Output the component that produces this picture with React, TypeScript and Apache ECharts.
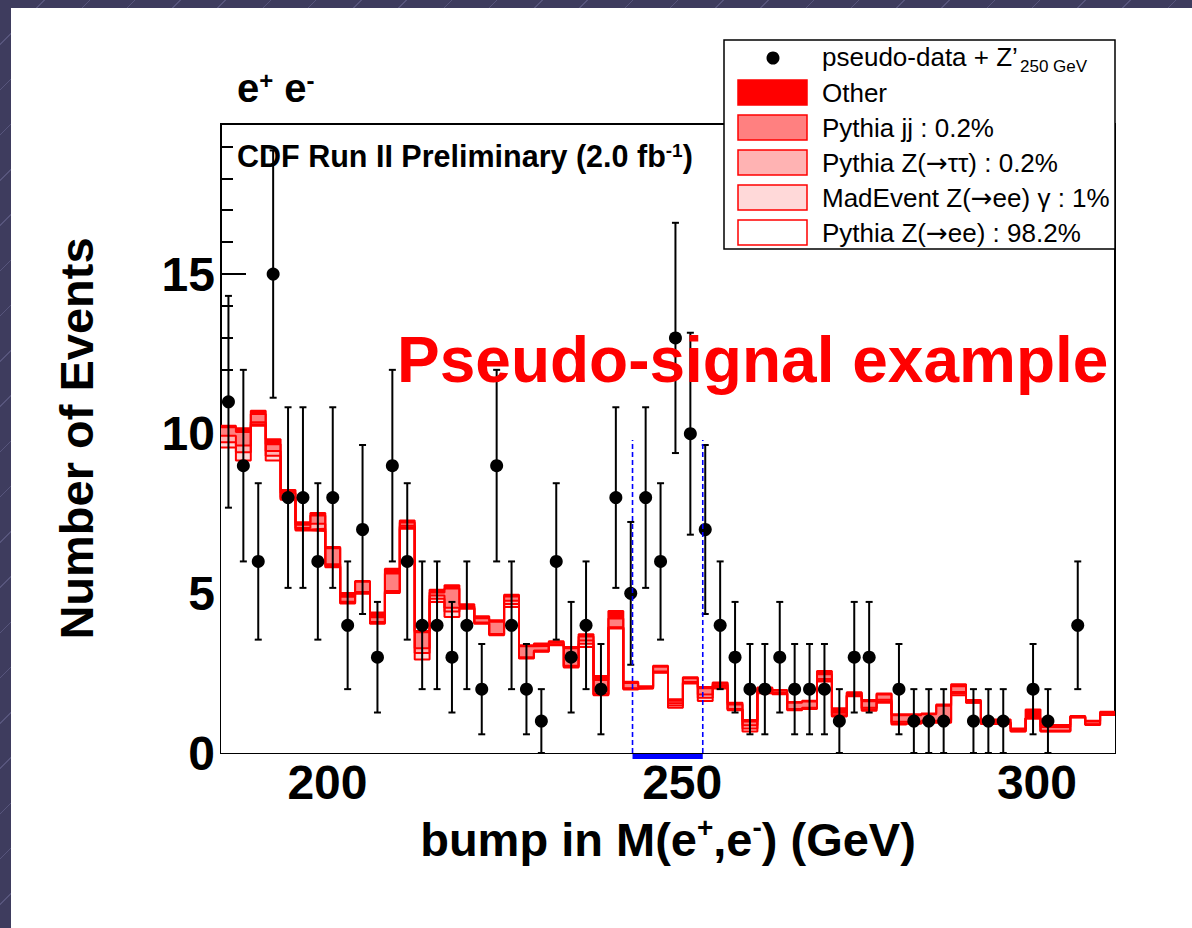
import React, { useEffect, useRef } from "react";
import * as echarts from "echarts";

// Binning of the mass histogram (GeV)
const X_MIN = 185;
const X_MAX = 311;
const BIN_WIDTH = 2.1;
const Y_MAX = 19.7;

// Pseudo-data counts per bin
const dataCounts = [
  11, 9, 6, 15, 8, 8, 6, 8, 4, 7, 3, 9, 6, 4, 4, 3, 4, 2, 9, 4,
  2, 1, 6, 3, 4, 2, 8, 5, 8, 6, 13, 10, 7, 4, 3, 2, 2, 3, 2, 2,
  2, 1, 3, 3, 0, 2, 1, 1, 1, 0, 1, 1, 1, 0, 2, 1, 0, 4, 0, 0,
];

// Background expectations per bin, bottom of the stack first
const pythiaZee = [
  9.57, 9.16, 10.25, 9.16, 7.93, 6.97, 6.95, 5.82, 4.68, 4.99, 4.05, 5.01, 7.02, 2.93, 4.73, 4.26, 4.52, 4.05, 3.69, 4.57,
  2.96, 3.17, 3.375, 2.68, 3.32, 1.81, 3.9, 1.99, 2.02, 2.51, 1.42, 2.18, 1.63, 2.02, 1.34, 0.67, 1.87, 1.84, 1.34, 1.38,
  2.24, 1.14, 1.78, 1.32, 1.57, 0.89, 0.92, 0.95, 0.95, 1.81, 1.57, 0.91, 0.91, 0.67, 1.08, 0.67, 0.67, 1.11, 0.875, 1.19,
];
const madEventZeeGamma = [
  0.16, 0.26, 0.05, 0.15, 0.03, 0.03, 0.07, 0.04, 0.02, 0.02, 0.02, 0.03, 0.05, 0.2, 0.1, 0.17, 0.02, 0.02, 0.02, 0.1,
  0.015, 0.02, 0.015, 0.02, 0.1, 0.02, 0.02, 0.02, 0.01, 0.02, 0.07, 0.02, 0.1, 0.05, 0.02, 0.1, 0.06, 0.02, 0.02, 0.02,
  0.04, 0.02, 0.02, 0.05, 0.05, 0.04, 0.03, 0.03, 0.04, 0.05, 0.01, 0.01, 0.01, 0.01, 0.005, 0.01, 0.01, 0.01, 0.015, 0.01,
];
const pythiaZtautau = [
  0.21, 0.21, 0.06, 0.15, 0.05, 0.05, 0.16, 0.05, 0.04, 0.03, 0.03, 0.03, 0.05, 0.15, 0.1, 0.12, 0.02, 0.02, 0.02, 0.1,
  0.02, 0.02, 0.01, 0.03, 0.1, 0.02, 0.02, 0.02, 0.01, 0.02, 0.07, 0.02, 0.1, 0.05, 0.02, 0.1, 0.06, 0.02, 0.02, 0.02,
  0.04, 0.02, 0.02, 0.05, 0.05, 0.05, 0.03, 0.03, 0.04, 0.05, 0.01, 0.01, 0.01, 0.01, 0.005, 0.015, 0.015, 0.01, 0.01, 0.01,
];
const pythiaJJ = [
  0.26, 0.42, 0.26, 0.21, 0.13, 0.1, 0.26, 0.5, 0.15, 0.32, 0.15, 0.55, 0.1, 0.5, 0.1, 0.6, 0.04, 0.13, 0.38, 0.13,
  0.35, 0.14, 0.05, 0.55, 0.13, 0.44, 0.27, 0.16, 0.03, 0.15, 0.08, 0.12, 0.2, 0.05, 0.14, 0.12, 0.04, 0.07, 0.19, 0.19,
  0.15, 0.08, 0.06, 0.2, 0.16, 0.2, 0.2, 0.2, 0.45, 0.18, 0.02, 0.04, 0.04, 0.06, 0.01, 0.12, 0.12, 0.01, 0.09, 0.05,
];
const otherBkg = [
  0.05, 0.12, 0.1, 0.16, 0.1, 0.08, 0.08, 0.04, 0.12, 0.03, 0.15, 0.15, 0.06, 0.04, 0.08, 0.1, 0.06, 0.06, 0.05, 0.06,
  0.03, 0.08, 0.05, 0.04, 0.07, 0.12, 0.24, 0.04, 0.02, 0.03, 0.04, 0.03, 0.04, 0.04, 0.05, 0.04, 0.02, 0.02, 0.03, 0.03,
  0.1, 0.14, 0.02, 0.04, 0.03, 0.03, 0.03, 0.03, 0.04, 0.06, 0.05, 0.08, 0.08, 0.02, 0.26, 0.06, 0.06, 0.02, 0.02, 0.03,
];

// Signal search window (GeV) and height of its dashed markers (events)
const WINDOW_LOW = 243.0;
const WINDOW_HIGH = 252.9;
const WINDOW_MARK = 9.8;

// Axis ticks
const xMajorTicks = [200, 250, 300];
const xMinorTicks = [190, 210, 220, 230, 240, 260, 270, 280, 290, 310];
const yMajorTicks = [0, 5, 10, 15];
const yMinorTicks = [1, 2, 3, 4, 6, 7, 8, 9, 11, 12, 13, 14, 16, 17, 18, 19];

const FONT = '"Liberation Sans", Helvetica, Arial, sans-serif';
const RED = "#ff0000";

// Stack components, bottom first
const stackLayers = [
  { name: "Pythia Z(→ee) : 98.2%", values: pythiaZee, fill: "#ffffff" },
  { name: "MadEvent Z(→ee) γ : 1%", values: madEventZeeGamma, fill: "#ffd9d9" },
  { name: "Pythia Z(→ττ) : 0.2%", values: pythiaZtautau, fill: "#ffb3b3" },
  { name: "Pythia jj : 0.2%", values: pythiaJJ, fill: "#ff8080" },
  { name: "Other", values: otherBkg, fill: RED },
];

function buildOption() {
  const nBins = dataCounts.length;
  const lowEdges = dataCounts.map((_, i) => X_MIN + i * BIN_WIDTH);

  // cumulative stack levels
  const cumulative = stackLayers.map((_, k) =>
    lowEdges.map((_, i) => stackLayers.slice(0, k + 1).reduce((s, l) => s + l.values[i], 0))
  );

  // draw the tallest cumulative histogram first so lower layers paint over it
  const stackSeries = stackLayers
    .map((layer, k) => ({
      type: "line",
      name: layer.name,
      xAxisIndex: 0,
      yAxisIndex: 0,
      step: "end",
      symbol: "none",
      silent: true,
      z: 2,
      data: lowEdges
        .map((e, i) => [e, cumulative[k][i]])
        .concat([[X_MAX, cumulative[k][nBins - 1]]]),
      lineStyle: { color: RED, width: 2 },
      areaStyle: { color: layer.fill, opacity: 1, origin: "start" },
    }))
    .reverse();

  const points = dataCounts
    .map((v, i) => [lowEdges[i] + BIN_WIDTH / 2, v])
    .filter((p) => p[1] > 0);

  const dataSeries = {
    type: "custom",
    name: "pseudo-data",
    xAxisIndex: 0,
    yAxisIndex: 0,
    z: 5,
    data: points,
    renderItem: (_params: any, api: any) => {
      const x = api.value(0);
      const v = api.value(1);
      const err = Math.sqrt(v);
      const c = api.coord([x, v]);
      const top = api.coord([x, v + err]);
      const bot = api.coord([x, Math.max(v - err, 0)]);
      const stroke = { stroke: "#000", lineWidth: 2 };
      return {
        type: "group",
        children: [
          { type: "line", shape: { x1: c[0], y1: top[1], x2: c[0], y2: bot[1] }, style: stroke },
          { type: "line", shape: { x1: c[0] - 3.5, y1: top[1], x2: c[0] + 3.5, y2: top[1] }, style: stroke },
          { type: "line", shape: { x1: c[0] - 3.5, y1: bot[1], x2: c[0] + 3.5, y2: bot[1] }, style: stroke },
          { type: "circle", shape: { cx: c[0], cy: c[1], r: 6.5 }, style: { fill: "#000" } },
        ],
      };
    },
  };

  const windowSeries = {
    type: "custom",
    name: "window",
    xAxisIndex: 0,
    yAxisIndex: 0,
    z: 6,
    clip: false,
    data: [[WINDOW_LOW, WINDOW_HIGH, WINDOW_MARK]],
    encode: { x: [0, 1], y: 2 },
    renderItem: (_params: any, api: any) => {
      const lo = api.coord([api.value(0), 0]);
      const hi = api.coord([api.value(1), 0]);
      const loTop = api.coord([api.value(0), api.value(2)]);
      const hiTop = api.coord([api.value(1), api.value(2)]);
      const dash = { stroke: "#0000ff", lineWidth: 1.6, lineDash: [5, 3] };
      return {
        type: "group",
        children: [
          { type: "line", shape: { x1: lo[0], y1: lo[1], x2: loTop[0], y2: loTop[1] }, style: dash },
          { type: "line", shape: { x1: hi[0], y1: hi[1], x2: hiTop[0], y2: hiTop[1] }, style: dash },
          { type: "rect", shape: { x: lo[0], y: lo[1] + 1, width: hi[0] - lo[0], height: 5 }, style: { fill: "#0000ff" } },
        ],
      };
    },
  };

  const axisLineStyle = { color: "#000", width: 2 };
  const tickLabel = { fontSize: 48, fontWeight: "bold", fontFamily: FONT, color: "#000" };

  const legendRows = [
    { y: 92.5, fill: RED, label: "Other" },
    { y: 127.5, fill: "#ff8080", label: "Pythia jj : 0.2%" },
    { y: 162.5, fill: "#ffb3b3", label: "Pythia Z({a|→}ττ) : 0.2%" },
    { y: 197.5, fill: "#ffd9d9", label: "MadEvent Z({a|→}ee) γ : 1%" },
    { y: 232.5, fill: "#ffffff", label: "Pythia Z({a|→}ee) : 98.2%" },
  ];

  const legendText = {
    fontSize: 26,
    fontFamily: FONT,
    fill: "#000",
    verticalAlign: "middle",
    align: "left",
    rich: { a: { fontSize: 26, fontFamily: '"DejaVu Sans", sans-serif', fill: "#000" } },
  };

  return {
    animation: false,
    backgroundColor: "transparent",
    grid: {
      left: 221,
      top: 124,
      width: 894,
      height: 629,
      show: true,
      borderColor: "#000",
      borderWidth: 2,
      backgroundColor: "transparent",
      outerBoundsMode: "none",
    },
    xAxis: [
      {
        type: "value",
        min: X_MIN,
        max: X_MAX,
        position: "bottom",
        axisLine: { show: true, onZero: false, lineStyle: axisLineStyle },
        axisTick: { show: true, inside: true, length: 19, customValues: xMajorTicks, lineStyle: axisLineStyle },
        axisLabel: { show: true, customValues: xMajorTicks, margin: 5, ...tickLabel },
        splitLine: { show: false },
        name: "{t|bump in M(e}{s|+}{t|,e}{s|-}{t|) (GeV)}",
        nameLocation: "middle",
        nameGap: 60,
        nameTextStyle: {
          rich: {
            t: { fontSize: 47, fontWeight: "bold", fontFamily: FONT, color: "#000", lineHeight: 52 },
            s: { fontSize: 28, fontWeight: "bold", fontFamily: FONT, color: "#000", verticalAlign: "top", lineHeight: 30 },
          },
        },
      },
      {
        type: "value",
        min: X_MIN,
        max: X_MAX,
        position: "bottom",
        axisLine: { show: false },
        axisTick: { show: true, inside: true, length: 10, customValues: xMinorTicks, lineStyle: axisLineStyle },
        axisLabel: { show: false },
        splitLine: { show: false },
      },
    ],
    yAxis: [
      {
        type: "value",
        min: 0,
        max: Y_MAX,
        position: "left",
        axisLine: { show: true, onZero: false, lineStyle: axisLineStyle },
        axisTick: { show: true, inside: true, length: 25, customValues: yMajorTicks, lineStyle: axisLineStyle },
        axisLabel: { show: true, customValues: yMajorTicks, margin: 6, ...tickLabel },
        splitLine: { show: false },
        name: "Number of Events",
        nameLocation: "middle",
        nameGap: 121,
        nameTextStyle: { fontSize: 47, fontWeight: "bold", fontFamily: FONT, color: "#000" },
      },
      {
        type: "value",
        min: 0,
        max: Y_MAX,
        position: "left",
        axisLine: { show: false },
        axisTick: { show: true, inside: true, length: 12, customValues: yMinorTicks, lineStyle: axisLineStyle },
        axisLabel: { show: false },
        splitLine: { show: false },
      },
    ],
    series: [...stackSeries, windowSeries, dataSeries],
    graphic: [
      {
        type: "text",
        x: 237,
        y: 88,
        z: 50,
        style: {
          text: "{t|e}{s|+}{t| e}{s|-}",
          verticalAlign: "middle",
          rich: {
            t: { fontSize: 40, fontWeight: "bold", fontFamily: FONT, fill: "#000" },
            s: { fontSize: 24, fontWeight: "bold", fontFamily: FONT, fill: "#000", verticalAlign: "top" },
          },
        },
      },
      {
        type: "text",
        x: 237,
        y: 156,
        z: 50,
        style: {
          text: "{t|CDF Run II Preliminary (2.0 fb}{s|-1}{t|)}",
          verticalAlign: "middle",
          rich: {
            t: { fontSize: 30.5, fontWeight: "bold", fontFamily: FONT, fill: "#000" },
            s: { fontSize: 19, fontWeight: "bold", fontFamily: FONT, fill: "#000", verticalAlign: "top" },
          },
        },
      },
      {
        type: "text",
        x: 397,
        y: 360,
        z: 50,
        style: {
          text: "Pseudo-signal example",
          fontSize: 64,
          fontWeight: "bold",
          fontFamily: FONT,
          fill: RED,
          verticalAlign: "middle",
        },
      },
      {
        type: "group",
        z: 100,
        children: [
          {
            type: "rect",
            shape: { x: 724, y: 40, width: 391, height: 209 },
            style: { fill: "#fff", stroke: "#000", lineWidth: 1.5 },
            z: 100,
          },
          { type: "circle", shape: { cx: 773, cy: 58, r: 6.5 }, style: { fill: "#000" }, z: 101 },
          { type: "text", x: 822, y: 57, z: 101, style: { ...legendText, text: "pseudo-data + Z’" } },
          { type: "text", x: 1020, y: 66, z: 101, style: { ...legendText, fontSize: 17, text: "250 GeV" } },
          ...legendRows.flatMap((r) => [
            {
              type: "rect",
              z: 101,
              shape: { x: 738, y: r.y - 12.5, width: 69, height: 25 },
              style: { fill: r.fill, stroke: RED, lineWidth: 1.5 },
            },
            { type: "text", x: 822, y: r.y, z: 101, style: { ...legendText, text: r.label } },
          ]),
        ],
      },
    ],
  };
}

export default function App() {
  const ref = useRef<HTMLDivElement>(null);
  useEffect(() => {
    if (!ref.current) return;
    const chart = echarts.init(ref.current, null, { renderer: "svg" });
    chart.setOption(buildOption() as any);
    return () => chart.dispose();
  }, []);
  return (
    <div
      style={{
        position: "absolute",
        left: 0,
        top: 0,
        width: 1192,
        height: 928,
        overflow: "hidden",
        background:
          "repeating-linear-gradient(135deg, #3e3c5e 0px, #3e3c5e 31px, #57557c 31px, #57557c 32px)",
      }}
    >
      <div style={{ position: "absolute", left: 11, top: 8, width: 1181, height: 920, background: "#fff" }} />
      <div ref={ref} style={{ position: "absolute", left: 0, top: 0, width: 1192, height: 928 }} />
    </div>
  );
}
